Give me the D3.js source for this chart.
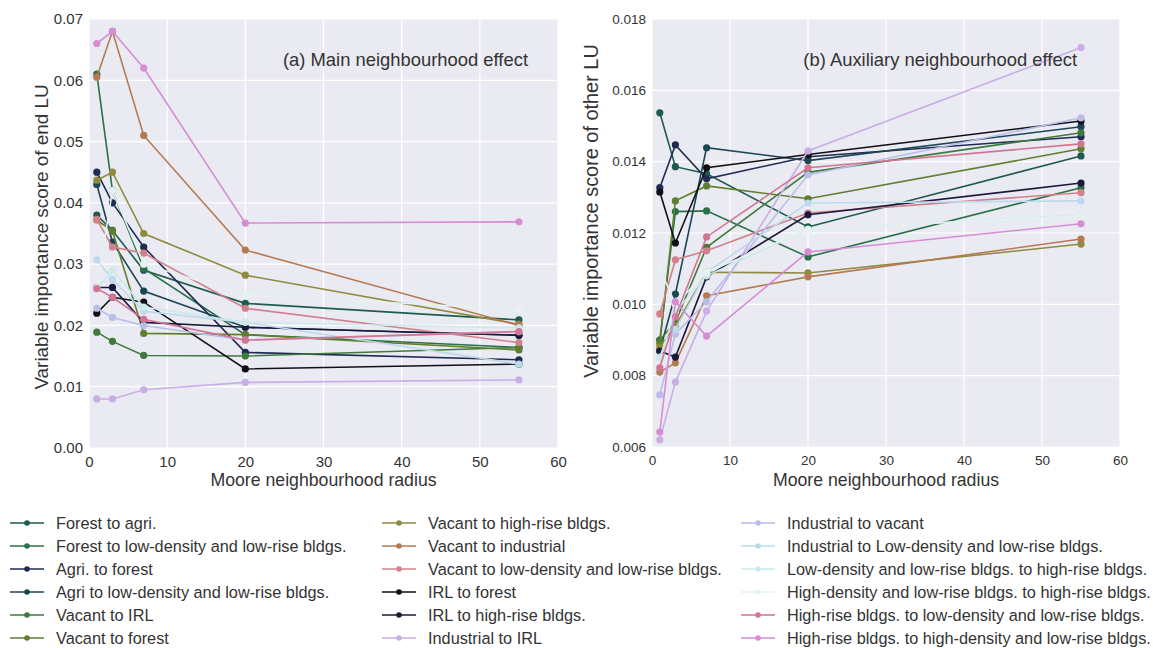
<!DOCTYPE html>
<html>
<head>
<meta charset="utf-8">
<script src="https://cdn.jsdelivr.net/npm/d3@7"></script>
<style>
  body { margin: 0; background: #fff; }
  text { font-family: "Liberation Sans", Arial, sans-serif; fill: #333; }
</style>
</head>
<body>
<svg id="chart" width="1153" height="648"></svg>
<script>
// Moore neighbourhood radii sampled
var radii = [1, 3, 7, 20, 55];

// Land-use transition names (legend order)
var seriesNames = [
  "Forest to agri.",
  "Forest to low-density and low-rise bldgs.",
  "Agri. to forest",
  "Agri to low-density and low-rise bldgs.",
  "Vacant to IRL",
  "Vacant to forest",
  "Vacant to high-rise bldgs.",
  "Vacant to industrial",
  "Vacant to low-density and low-rise bldgs.",
  "IRL to forest",
  "IRL to high-rise bldgs.",
  "Industrial to IRL",
  "Industrial to vacant",
  "Industrial to Low-density and low-rise bldgs.",
  "Low-density and low-rise bldgs. to high-rise bldgs.",
  "High-density and low-rise bldgs. to high-rise bldgs.",
  "High-rise bldgs. to low-density and low-rise bldgs.",
  "High-rise bldgs. to high-density and low-rise bldgs."
];

var seriesColors = [
  "#1d5b4f", "#2a7048", "#1f2b52", "#1c4656", "#3e7a3c", "#5f7f2e",
  "#8f8a3f", "#b57a52", "#d4808a", "#0f0f14", "#1b1a3c", "#c9aee6",
  "#b9bdea", "#bcdaee", "#cbeaea", "#e4f3ef", "#d27592", "#d58dd4"
];

// (a) main neighbourhood effect, one row per transition
var mainEffect = [
  [0.0380, 0.0355, 0.0290, 0.0236, 0.0209],
  [0.0610, 0.0420, 0.0293, 0.0185, 0.0164],
  [0.0450, 0.0400, 0.0328, 0.0156, 0.0144],
  [0.0430, 0.0336, 0.0256, 0.0197, 0.0184],
  [0.0189, 0.0174, 0.0151, 0.0150, 0.0164],
  [0.0372, 0.0354, 0.0187, 0.0185, 0.0160],
  [0.0437, 0.0450, 0.0350, 0.0282, 0.0202],
  [0.0605, 0.0680, 0.0510, 0.0323, 0.0200],
  [0.0373, 0.0328, 0.0318, 0.0228, 0.0172],
  [0.0220, 0.0246, 0.0238, 0.0129, 0.0137],
  [0.0262, 0.0262, 0.0205, 0.0197, 0.0184],
  [0.0080, 0.0080, 0.0095, 0.0107, 0.0111],
  [0.0228, 0.0213, 0.0200, 0.0176, 0.0190],
  [0.0307, 0.0275, 0.0223, 0.0205, 0.0137],
  [0.0260, 0.0290, 0.0230, 0.0205, 0.0196],
  [0.0262, 0.0420, 0.0300, 0.0250, 0.0226],
  [0.0260, 0.0246, 0.0210, 0.0176, 0.0190],
  [0.0660, 0.0680, 0.0620, 0.0367, 0.0369]
];

// (b) auxiliary neighbourhood effect
var auxEffect = [
  [0.01537, 0.01386, 0.01366, 0.01217, 0.01416],
  [0.00900, 0.01260, 0.01262, 0.01133, 0.01327],
  [0.01327, 0.01447, 0.01352, 0.01414, 0.01470],
  [0.00870, 0.01029, 0.01439, 0.01403, 0.01498],
  [0.00900, 0.00950, 0.01160, 0.01370, 0.01481],
  [0.00890, 0.01290, 0.01332, 0.01296, 0.01436],
  [0.00880, 0.00940, 0.01090, 0.01088, 0.01169],
  [0.00810, 0.00836, 0.01024, 0.01077, 0.01183],
  [0.00973, 0.01125, 0.01150, 0.01256, 0.01313],
  [0.01315, 0.01172, 0.01383, 0.01420, 0.01514],
  [0.00869, 0.00852, 0.01077, 0.01251, 0.01340],
  [0.00620, 0.00782, 0.00981, 0.01430, 0.01720],
  [0.00746, 0.00917, 0.01007, 0.01363, 0.01523],
  [0.00852, 0.00930, 0.01090, 0.01284, 0.01290],
  [0.00850, 0.00980, 0.01080, 0.01210, 0.01250],
  [0.01100, 0.01000, 0.01090, 0.01210, 0.01248],
  [0.00822, 0.00965, 0.01189, 0.01383, 0.01450],
  [0.00642, 0.01007, 0.00911, 0.01147, 0.01226]
];

var xTicks = [0, 10, 20, 30, 40, 50, 60];
var mainTicks = [0.00, 0.01, 0.02, 0.03, 0.04, 0.05, 0.06, 0.07];
var auxTicks = [0.006, 0.008, 0.010, 0.012, 0.014, 0.016, 0.018];

var svg = d3.select("#chart");

// Draw one panel of the figure.
function drawPanel(opts) {
  var x = d3.scaleLinear().domain([0, 60]).range([opts.left, opts.right]);
  var y = d3.scaleLinear().domain(opts.yDomain).range([opts.bottom, opts.top]);

  var g = svg.append("g");

  // Background
  g.append("rect")
    .attr("x", opts.left).attr("y", opts.top)
    .attr("width", opts.right - opts.left)
    .attr("height", opts.bottom - opts.top)
    .attr("fill", "#eaeaf2");

  // Grid lines
  g.selectAll(".vgrid").data(xTicks).enter().append("line")
    .attr("x1", x).attr("x2", x)
    .attr("y1", opts.top).attr("y2", opts.bottom)
    .attr("stroke", "#fff").attr("stroke-width", 1.2);
  g.selectAll(".hgrid").data(opts.yTicks).enter().append("line")
    .attr("x1", opts.left).attr("x2", opts.right)
    .attr("y1", y).attr("y2", y)
    .attr("stroke", "#fff").attr("stroke-width", 1.2);

  // Axes (labels only, seaborn style)
  var xAxis = g.append("g")
    .attr("transform", "translate(0," + opts.bottom + ")")
    .call(d3.axisBottom(x).tickValues(xTicks).tickSize(0).tickPadding(8));
  var yAxis = g.append("g")
    .attr("transform", "translate(" + opts.left + ",0)")
    .call(d3.axisLeft(y).tickValues(opts.yTicks).tickSize(0).tickPadding(6)
      .tickFormat(d3.format(opts.fmt)));
  [xAxis, yAxis].forEach(function (a) {
    a.select(".domain").remove();
    a.selectAll("text").style("font-size", opts.tickSize + "px").attr("fill", "#333");
  });

  // Series lines and markers
  var line = d3.line()
    .x(function (d, i) { return x(radii[i]); })
    .y(function (d) { return y(d); });

  opts.data.forEach(function (vals, k) {
    var s = g.append("g");
    s.append("path")
      .datum(vals)
      .attr("d", line)
      .attr("fill", "none")
      .attr("stroke", seriesColors[k])
      .attr("stroke-width", 1.6);
    s.selectAll("circle").data(vals).enter().append("circle")
      .attr("cx", function (d, i) { return x(radii[i]); })
      .attr("cy", function (d) { return y(d); })
      .attr("r", 3.6)
      .attr("fill", seriesColors[k]);
  });

  // Panel title
  g.append("text")
    .attr("x", opts.titleX).attr("y", opts.top + 47)
    .attr("text-anchor", "end")
    .style("font-size", "18.4px")
    .attr("fill", "#222")
    .text(opts.title);

  // Axis titles
  g.append("text")
    .attr("x", (opts.left + opts.right) / 2).attr("y", 486)
    .attr("text-anchor", "middle")
    .style("font-size", "17.7px")
    .attr("fill", "#222")
    .text("Moore neighbourhood radius");
  g.append("text")
    .attr("transform", "translate(" + opts.yTitleX + "," + opts.yTitleY + ") rotate(-90)")
    .attr("text-anchor", "middle")
    .style("font-size", opts.yTitleSize + "px")
    .attr("fill", "#222")
    .text(opts.yTitle);
}

drawPanel({
  left: 89, right: 558, top: 19, bottom: 448,
  yDomain: [0, 0.07], yTicks: mainTicks, fmt: ".2f", tickSize: 15,
  data: mainEffect,
  title: "(a) Main neighbourhood effect", titleX: 528,
  yTitle: "Variable importance score of end LU",
  yTitleX: 48, yTitleY: 237, yTitleSize: 18.9
});

drawPanel({
  left: 652, right: 1120, top: 19, bottom: 447,
  yDomain: [0.006, 0.018], yTicks: auxTicks, fmt: ".3f", tickSize: 13.5,
  data: auxEffect,
  title: "(b) Auxiliary neighbourhood effect", titleX: 1077,
  yTitle: "Variable importance score of other LU",
  yTitleX: 598, yTitleY: 211, yTitleSize: 19.9
});

// Legend: three columns of six
var legendCols = [10, 382, 741];
var legend = svg.append("g");
seriesNames.forEach(function (name, k) {
  var col = Math.floor(k / 6), row = k % 6;
  var lx = legendCols[col], ly = 523 + row * 23;
  var item = legend.append("g").attr("transform", "translate(" + lx + "," + ly + ")");
  item.append("line")
    .attr("x1", 0).attr("x2", 34).attr("y1", 0).attr("y2", 0)
    .attr("stroke", seriesColors[k]).attr("stroke-width", 1.6);
  item.append("circle")
    .attr("cx", 17).attr("cy", 0).attr("r", 2.8)
    .attr("fill", seriesColors[k]);
  item.append("text")
    .attr("x", 46).attr("y", 5.5)
    .style("font-size", "16.3px")
    .attr("fill", "#222")
    .text(name);
});
</script>
</body>
</html>
